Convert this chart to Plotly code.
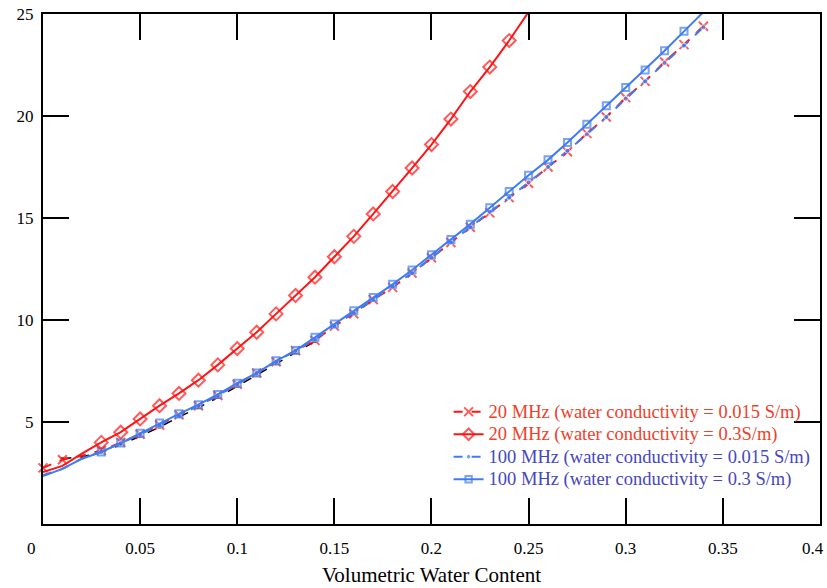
import plotly.graph_objects as go

# ---- data ----
x_low = [0.0, 0.01, 0.02, 0.03, 0.04, 0.05, 0.06, 0.07, 0.08, 0.09, 0.10, 0.11, 0.12, 0.13,
         0.14, 0.15, 0.16, 0.17, 0.18, 0.19, 0.20, 0.21, 0.22, 0.23, 0.24, 0.25, 0.26, 0.27,
         0.28, 0.29, 0.30, 0.31, 0.32, 0.33, 0.34]

# 20 MHz, sigma = 0.015 S/m
y_20_0015 = [2.75, 3.15, 3.35, 3.6, 4.0, 4.4, 4.85, 5.35, 5.8, 6.3, 6.85, 7.4, 7.95, 8.5,
             9.0, 9.7, 10.3, 11.0, 11.6, 12.3, 13.05, 13.8, 14.55, 15.25, 16.0, 16.7, 17.5, 18.25,
             19.15, 19.95, 20.9, 21.7, 22.65, 23.5, 24.4]

# 100 MHz, sigma = 0.015 S/m
y_100_0015 = [2.4, 2.7, 3.2, 3.55, 3.95, 4.4, 4.85, 5.3, 5.8, 6.3, 6.85, 7.4, 7.95, 8.5,
              9.05, 9.7, 10.35, 11.0, 11.65, 12.3, 13.05, 13.8, 14.55, 15.3, 16.0, 16.75, 17.5, 18.3,
              19.1, 19.95, 20.85, 21.7, 22.6, 23.45, 24.35]

# 100 MHz, sigma = 0.3 S/m
y_100_03 = [2.35, 2.7, 3.2, 3.53, 3.97, 4.45, 4.95, 5.4, 5.85, 6.35, 6.9, 7.4, 8.0, 8.5,
            9.15, 9.8, 10.45, 11.1, 11.75, 12.45, 13.2, 13.95, 14.7, 15.5, 16.3, 17.1, 17.85, 18.7,
            19.6, 20.5, 21.4, 22.25, 23.2, 24.15, 25.1]

# 20 MHz, sigma = 0.3 S/m
x_20_03 = [0.0, 0.01, 0.02, 0.03, 0.04, 0.05, 0.06, 0.07, 0.08, 0.09, 0.10, 0.11, 0.12, 0.13,
           0.14, 0.15, 0.16, 0.17, 0.18, 0.19, 0.20, 0.21, 0.22, 0.23, 0.24, 0.25]
y_20_03 = [2.55, 2.85, 3.45, 4.0, 4.5, 5.15, 5.8, 6.4, 7.05, 7.8, 8.6, 9.4, 10.3, 11.2,
           12.1, 13.1, 14.1, 15.2, 16.3, 17.45, 18.6, 19.85, 21.2, 22.4, 23.7, 25.1]

# underlying black reference series (no legend)
x_black = [0.01, 0.02, 0.03, 0.04, 0.05, 0.06, 0.07, 0.08, 0.09, 0.10, 0.11, 0.12, 0.13, 0.14]
y_black = [3.2, 3.3, 3.5, 3.9, 4.3, 4.75, 5.25, 5.7, 6.2, 6.75, 7.3, 7.85, 8.4, 8.95]

x_tickvals = [0, 0.05, 0.1, 0.15, 0.2, 0.25, 0.3, 0.35, 0.4]
x_ticktext = ["", "0.05", "0.1", "0.15", "0.2", "0.25", "0.3", "0.35", ""]
y_tickvals = [5, 10, 15, 20, 25]
y_ticktext = ["5", "10", "15", "20", "25"]

labels = [
    "20 MHz (water conductivity = 0.015 S/m)",
    "20 MHz (water conductivity = 0.3S/m)",
    "100 MHz (water conductivity = 0.015 S/m)",
    "100 MHz (water conductivity = 0.3 S/m)",
]

RED = "#ff1414"
BLUE = "#3f7cf2"
RED_TXT = "#f0402a"
BLUE_TXT = "#4646c0"
FONT = "Liberation Serif"


def sizes(xs, s, start=0.025):
    # markers only from 0.03 onward
    return [0 if xv < start else s for xv in xs]


def legend_name(text, color):
    return f"<span style='color:{color};font-size:18.5px'>{text}</span>"


fig = go.Figure()

fig.add_trace(go.Scatter(
    x=x_black, y=y_black, mode="lines+markers", showlegend=False,
    line=dict(color="black", width=1.5, dash="dash"),
    marker=dict(symbol="square", size=sizes(x_black, 4, 0.0), color="black"),
    cliponaxis=False,
))

fig.add_trace(go.Scatter(
    x=x_low, y=y_20_0015, mode="lines+markers", legendrank=1,
    name=legend_name(labels[0], RED_TXT),
    line=dict(color=RED, width=2, dash="dash"),
    marker=dict(symbol="x-thin", size=[9 if (xv < 0.015 or xv > 0.025) else 0 for xv in x_low],
                line=dict(color=RED, width=2)),
    cliponaxis=False,
))

fig.add_trace(go.Scatter(
    x=x_low, y=y_100_0015, mode="lines+markers", legendrank=3,
    name=legend_name(labels[2], BLUE_TXT),
    line=dict(color=BLUE, width=2, dash="dash"),
    marker=dict(symbol="circle", size=sizes(x_low, 5), color=BLUE),
    cliponaxis=False,
))

fig.add_trace(go.Scatter(
    x=x_low, y=y_100_03, mode="lines+markers", legendrank=4,
    name=legend_name(labels[3], BLUE_TXT),
    line=dict(color=BLUE, width=2),
    marker=dict(symbol="square-open", size=sizes(x_low, 7), color=BLUE, line=dict(width=2)),
    cliponaxis=False,
))

fig.add_trace(go.Scatter(
    x=x_20_03, y=y_20_03, mode="lines+markers", legendrank=2,
    name=legend_name(labels[1], RED_TXT),
    line=dict(color=RED, width=2),
    marker=dict(symbol="diamond-open", size=sizes(x_20_03, 10), color=RED, line=dict(width=2)),
    cliponaxis=False,
))

axis_common = dict(
    showline=True, linecolor="black", linewidth=2, mirror="ticks",
    ticks="inside", ticklen=26, tickwidth=2, tickcolor="black",
    showgrid=False, zeroline=False,
    tickfont=dict(family=FONT, size=17, color="black"),
)

fig.update_xaxes(range=[0, 0.40001], tickvals=x_tickvals, ticktext=x_ticktext,
                 ticklabelstandoff=8,
                 title=dict(text="Volumetric Water Content",
                            font=dict(family=FONT, size=21, color="black"), standoff=10),
                 **axis_common)
fig.update_yaxes(range=[0, 25.001], tickvals=y_tickvals, ticktext=y_ticktext,
                 ticklabelstandoff=4, **axis_common)

# end labels placed like the reference (slightly off-centre)
fig.add_annotation(x=0, y=0, xref="x", yref="y", text="0", showarrow=False,
                   xshift=-12, yshift=-24, font=dict(family=FONT, size=17, color="black"))
fig.add_annotation(x=0.4, y=0, xref="x", yref="y", text="0.4", showarrow=False,
                   xshift=-7, yshift=-24, font=dict(family=FONT, size=17, color="black"))

fig.update_layout(
    width=827, height=588,
    margin=dict(l=43, r=5, t=14, b=64),
    paper_bgcolor="white", plot_bgcolor="white",
    font=dict(family=FONT, size=16, color="black"),
    legend=dict(x=0.522, y=0.252, xanchor="left", yanchor="top",
                bgcolor="rgba(0,0,0,0)", tracegroupgap=0,
                font=dict(family=FONT, size=15), itemwidth=30),
)

fig.write_html("out.html")
